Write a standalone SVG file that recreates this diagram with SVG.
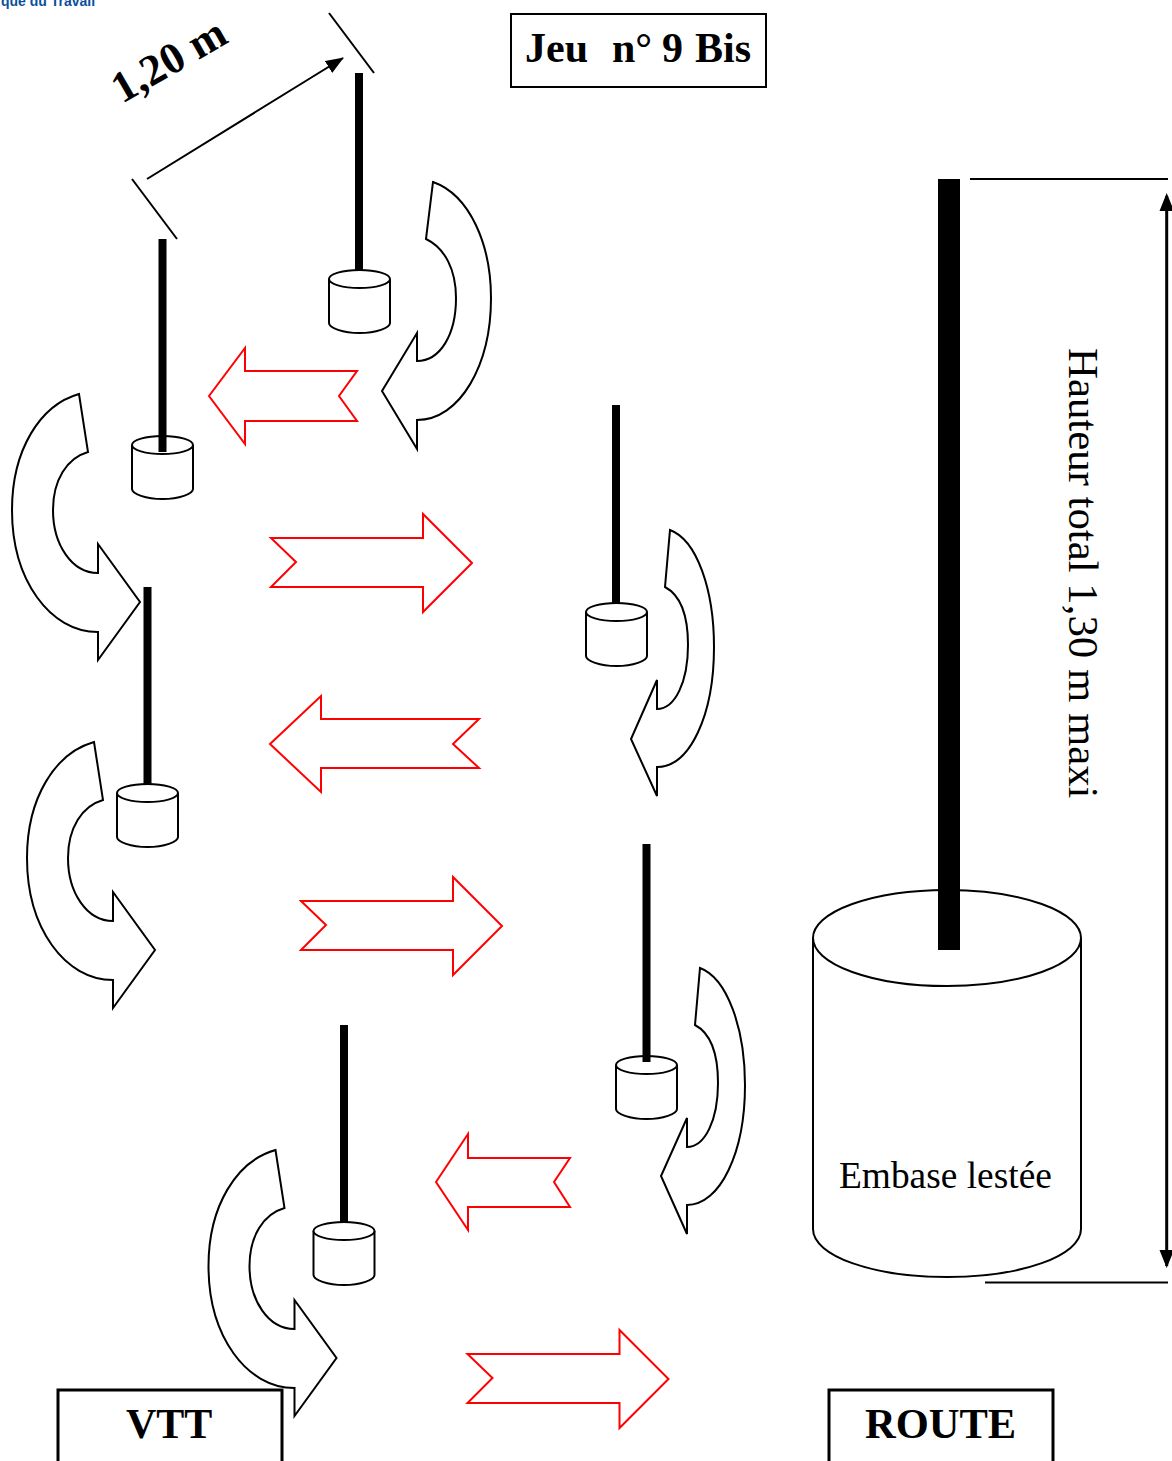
<svg xmlns="http://www.w3.org/2000/svg" width="1172" height="1461" viewBox="0 0 1172 1461">
<style>
.l{fill:none;stroke:#000;stroke-width:2}
.b{fill:#fff;stroke:#000;stroke-width:2;stroke-linejoin:miter}
.r{fill:#fff;stroke:#f00;stroke-width:2}
.c{fill:#fff;stroke:#000;stroke-width:2}
.t{font-family:"Liberation Serif",serif;fill:#000}
.bd{font-weight:bold}
</style>
<defs>
<g id="cyl">
<path class="c" d="M0,9 V53 C0,58 14,63 30.500,63 C47,63 61,58 61,53 V9"/>
<ellipse class="c" cx="30.500" cy="9" rx="30.500" ry="9"/>
</g>
<path id="cl" class="b" d="M79,394 C40,405 12,450 12,510 C12,580 50,632 98,632 L98,660 L140,602 L98,544 L98,573 C72,573 53,545 53,510 C53,480 67,458 88,452 Z"/>
<path id="rr" class="r" d="M271,538 H423 V514 L472,563 L423,612 V587 H271 L296,562 Z"/>
<marker id="ah" markerWidth="20" markerHeight="16" refX="17" refY="7" orient="auto" markerUnits="userSpaceOnUse"><path d="M0,0 L18,7 L0,14 Z" fill="#000"/></marker>
</defs>
<text x="1" y="6" font-family="'Liberation Sans',sans-serif" font-weight="bold" font-size="14" fill="#0b4f9e">que du Travail</text>
<g id="title"><rect class="l" x="511" y="14" width="255" height="73"/><text class="t bd" y="62" font-size="42"><tspan x="525">Jeu</tspan><tspan x="612">n°</tspan><tspan x="662">9</tspan><tspan x="695">Bis</tspan></text></g>
<g id="vtt"><path class="c" d="M58,1461 V1390 H282 V1461" style="stroke-width:3"/><text class="t bd" x="126" y="1438" font-size="42">VTT</text></g>
<g id="route"><path class="c" d="M829,1461 V1390 H1053 V1461" style="stroke-width:3"/><text class="t bd" x="865" y="1438" font-size="42.500">ROUTE</text></g>
<g id="connectors">
<path class="l" d="M329,13 L374,73"/>
<path class="l" d="M132,179 L177,239"/>
<path class="l" d="M147,179 L343,58" marker-end="url(#ah)"/>
<path class="r" d="M209,396 L245,348 V371 H357 L339,396 L357,421 H245 V444 Z"/>
<use href="#rr"/>
<path class="r" d="M270,744 L321,696 V719 H479 L453,744 L479,768 H321 V792 Z"/>
<use href="#rr" x="30" y="363"/>
<path class="r" d="M436,1182 L468,1134 V1158 H570 L554,1182 L570,1207 H468 V1230 Z"/>
<use href="#rr" x="196.500" y="816"/>
<path class="b" d="M433,182 C470,195 491,245 491,298 C491,365 460,420 417,420 V449 L382,391 L417,333 V361 C440,361 456,335 456,298 C456,270 445,248 426,239 Z"/>
<path class="b" d="M670,530 C697,540 714,590 714,647 C714,715 690,767 657,767 V796 L631,739 L657,680 V709 C675,709 688,682 688,645 C688,615 680,595 665,587 Z"/>
<path class="b" d="M700,968 C727,978 745,1028 745,1085 C745,1153 720,1205 687,1205 V1234 L661,1176 L687,1118 V1147 C705,1147 718,1120 718,1083 C718,1053 710,1033 695,1025 Z"/>
<use href="#cl"/>
<use href="#cl" x="15" y="348"/>
<use href="#cl" x="196.500" y="756"/>
<path d="M1166.700,196 V1266" stroke="#000" stroke-width="3" fill="none"/>
<path d="M1166.700,193 L1159.500,211 H1174 Z M1166.700,1268 L1159.500,1250 H1174 Z" fill="#000"/>
<path class="l" d="M970,179 H1168 M985,1282.500 H1168"/>
</g>
<g id="n1"><use href="#cyl" x="329" y="270"/><rect x="355" y="73" width="8" height="197"/></g>
<g id="n2"><use href="#cyl" x="132" y="436"/><rect x="158.500" y="239" width="8" height="213"/></g>
<g id="n3"><use href="#cyl" x="117" y="784"/><rect x="143.500" y="587" width="8" height="198"/></g>
<g id="n4"><use href="#cyl" x="586" y="603"/><rect x="612" y="405" width="8" height="198"/></g>
<g id="n5"><use href="#cyl" x="616" y="1056"/><rect x="642.500" y="844" width="8" height="218"/></g>
<g id="n6"><use href="#cyl" x="313.500" y="1222"/><rect x="340" y="1025" width="8" height="198"/></g>
<g id="base">
<path class="c" d="M813,938 V1229 C813,1256 873,1277 947,1277 C1021,1277 1081,1256 1081,1229 V938"/>
<ellipse class="c" cx="947" cy="938" rx="134" ry="48"/>
<rect x="938" y="179" width="22" height="771"/>
<text class="t" x="839" y="1188" font-size="37.400">Embase lestée</text>
</g>
<text class="t bd" transform="translate(122,104) rotate(-30)" font-size="44">1,20 m</text>
<text class="t" transform="translate(1069,348) rotate(90)" font-size="42.800">Hauteur total 1,30 m maxi</text>
</svg>
